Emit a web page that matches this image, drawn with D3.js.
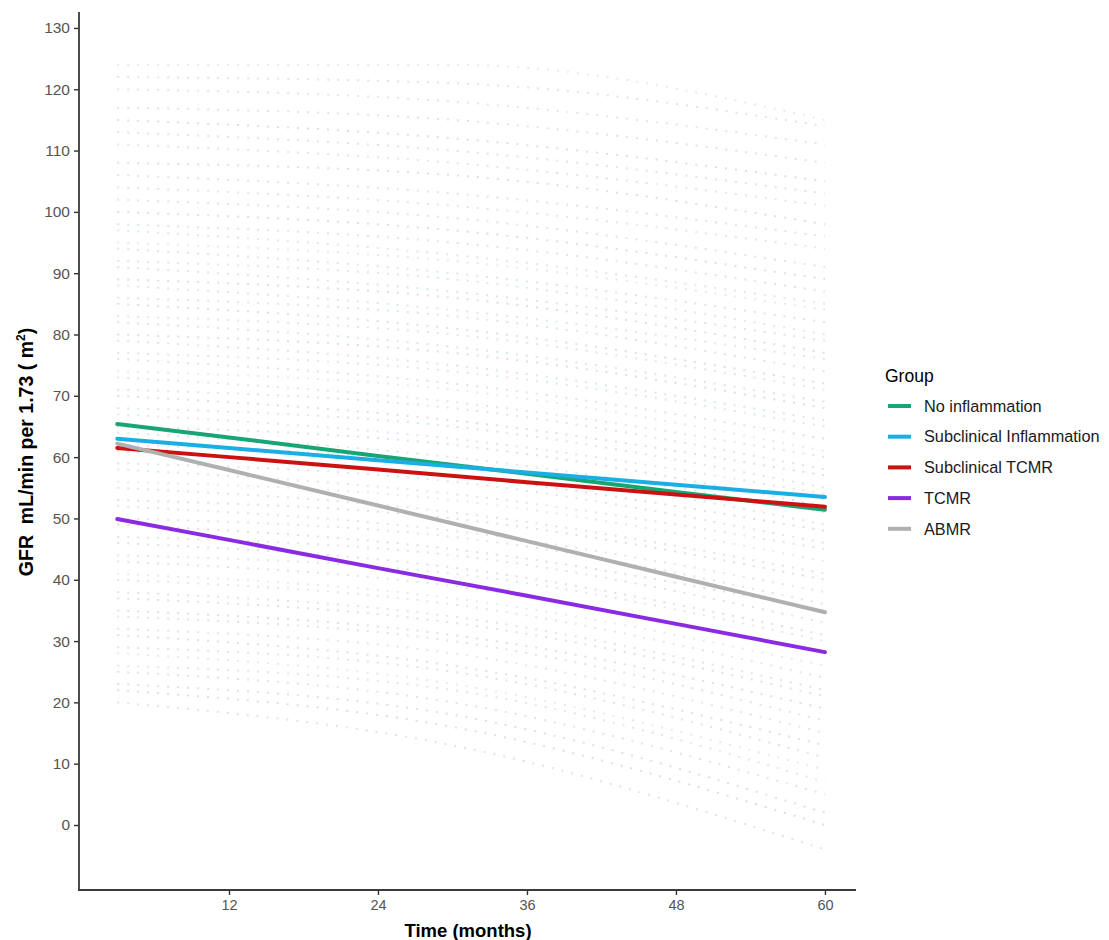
<!DOCTYPE html>
<html>
<head>
<meta charset="utf-8">
<script src="https://cdn.jsdelivr.net/npm/d3@7"></script>
<style>
  body { margin: 0; background: #fff; }
  svg text { font-family: "Liberation Sans", Arial, sans-serif; }
</style>
</head>
<body>
<svg id="chart" width="1109" height="940"></svg>
<script>
"use strict";

// Group names and colours (legend order)
const groups = ["No inflammation", "Subclinical Inflammation", "Subclinical TCMR", "TCMR", "ABMR"];
const groupKeys = ["NI", "SI", "SC", "TCMR", "ABMR"];
const groupColors = ["#17a673", "#1aaee5", "#cc1111", "#8a2be2", "#b0b0b0"];

// Fitted group trajectories
const months = [3, 12, 24, 36, 48, 60];
const noInflammation = [65.4, 63.2, 60.2, 57.3, 54.3, 51.4];
const subclinicalInflammation = [63.0, 61.5, 59.5, 57.5, 55.5, 53.5];
const subclinicalTCMR = [61.5, 60.0, 58.0, 55.9, 53.9, 51.9];
const tcmr = [49.9, 46.5, 41.9, 37.4, 32.8, 28.2];
const abmr = [62.2, 57.9, 52.1, 46.3, 40.5, 34.7];
const seriesValues = [noInflammation, subclinicalInflammation, subclinicalTCMR, tcmr, abmr];

// Faint individual trajectories: [group, value at 3, value at 30, value at 60]
const bgMonths = [3, 30, 60];
const bgLines = [
  ["ABMR", 124, 124, 115], ["NI", 122, 121, 114], ["SI", 120, 118, 111], ["NI", 117, 115, 108],
  ["SC", 115, 112, 105], ["NI", 113, 110, 103], ["SI", 111, 108, 101], ["TCMR", 108, 106, 98],
  ["NI", 106, 103, 96], ["SI", 104, 101, 94], ["NI", 102, 99, 91], ["SC", 100, 97, 89],
  ["NI", 98, 95, 87], ["SI", 97, 93, 85], ["ABMR", 95, 92, 84], ["NI", 94, 90, 82],
  ["SI", 92, 89, 80], ["NI", 91, 87, 79], ["SC", 89, 86, 77], ["SI", 88, 84, 76],
  ["NI", 86, 83, 74], ["TCMR", 85, 81, 72], ["SI", 83, 80, 71], ["NI", 82, 78, 69],
  ["SC", 80, 77, 68], ["NI", 79, 75, 66], ["SI", 77, 74, 65], ["NI", 76, 72, 63],
  ["ABMR", 74, 71, 61], ["SI", 73, 69, 60], ["NI", 71, 68, 58], ["SC", 70, 66, 57],
  ["NI", 68, 65, 55], ["SI", 67, 63, 54], ["TCMR", 65, 62, 52], ["NI", 64, 60, 51],
  ["SI", 62, 59, 49], ["SC", 61, 57, 48], ["NI", 59, 56, 46], ["SI", 58, 54, 45],
  ["ABMR", 56, 53, 43], ["NI", 55, 51, 41], ["TCMR", 53, 50, 40], ["SI", 52, 48, 38],
  ["NI", 50, 47, 36], ["SC", 49, 45, 35], ["NI", 47, 44, 33], ["TCMR", 46, 42, 31],
  ["SI", 44, 41, 30], ["NI", 43, 39, 28], ["ABMR", 41, 37, 26], ["SI", 40, 36, 24],
  ["NI", 38, 34, 22], ["TCMR", 37, 33, 21], ["SC", 35, 31, 19], ["NI", 34, 30, 17],
  ["SI", 32, 28, 15], ["TCMR", 31, 26, 13], ["NI", 29, 25, 11], ["ABMR", 28, 23, 9],
  ["SI", 26, 22, 7], ["NI", 25, 20, 5], ["TCMR", 23, 18, 2], ["SC", 22, 16, 0],
  ["NI", 20, 13, -4]
];

const xTicks = [12, 24, 36, 48, 60];
const yTicks = d3.range(0, 131, 10);

const svg = d3.select("#chart");
const x = d3.scaleLinear().domain([0, 62.5]).range([80, 856]);
const y = d3.scaleLinear().domain([-10.6, 132.6]).range([890, 12]);
const colorOf = d3.scaleOrdinal().domain(groupKeys).range(groupColors);

const line = d3.line()
               .x(d => x(d[0]))
               .y(d => y(d[1]));

// Background dotted trajectories: a grey underlay tinted by group colour
const bg = svg.append("g");
bg.selectAll("path.grey")
  .data(bgLines)
  .enter()
  .append("path")
  .attr("class", "grey")
  .attr("d", d => line.curve(d3.curveMonotoneX)(bgMonths.map((m, i) => [m, d[i + 1]])))
  .attr("fill", "none")
  .attr("stroke", "#8a8aa0")
  .attr("stroke-opacity", 0.13)
  .attr("stroke-width", 2)
  .attr("stroke-dasharray", "2,8");
bg.selectAll("path.tint")
  .data(bgLines)
  .enter()
  .append("path")
  .attr("class", "tint")
  .attr("d", d => line.curve(d3.curveMonotoneX)(bgMonths.map((m, i) => [m, d[i + 1]])))
  .attr("fill", "none")
  .attr("stroke", d => colorOf(d[0]))
  .attr("stroke-opacity", 0.1)
  .attr("stroke-width", 2)
  .attr("stroke-dasharray", "2,8");

// Group trajectories
svg.append("g")
   .selectAll("path")
   .data(seriesValues)
   .enter()
   .append("path")
   .attr("d", vals => line.curve(d3.curveLinear)(months.map((m, i) => [m, vals[i]])))
   .attr("fill", "none")
   .attr("stroke", (d, i) => groupColors[i])
   .attr("stroke-width", 4)
   .attr("stroke-linecap", "round");

// Axes
const yAxis = svg.append("g")
                 .attr("transform", "translate(79,0)")
                 .call(d3.axisLeft(y).tickValues(yTicks).tickSize(5).tickPadding(4));
const xAxis = svg.append("g")
                 .attr("transform", "translate(0,890)")
                 .call(d3.axisBottom(x).tickValues(xTicks).tickSize(5).tickPadding(5));

for (let ax of [yAxis, xAxis]) {
  ax.select(".domain").remove();
  ax.selectAll("line").attr("stroke", "#333").attr("stroke-width", 1.4);
  ax.selectAll("text")
    .attr("fill", "#555")
    .style("font-family", "'Liberation Sans', Arial, sans-serif");
}
yAxis.selectAll("text").style("font-size", "15.5px");
xAxis.selectAll("text").style("font-size", "14.5px");

svg.append("line")
   .attr("x1", 79).attr("x2", 79).attr("y1", 12).attr("y2", 891)
   .attr("stroke", "#3a3a3a").attr("stroke-width", 1.8);
svg.append("line")
   .attr("x1", 78).attr("x2", 856).attr("y1", 890).attr("y2", 890)
   .attr("stroke", "#3a3a3a").attr("stroke-width", 1.8);

// Axis titles
svg.append("text")
   .attr("x", 468).attr("y", 937)
   .attr("text-anchor", "middle")
   .style("font-size", "18.5px").style("font-weight", "bold")
   .attr("fill", "#000")
   .text("Time (months)");

const yTitle = svg.append("text")
   .attr("transform", "translate(33,452) rotate(-90)")
   .attr("text-anchor", "middle")
   .style("font-size", "19.5px").style("font-weight", "bold")
   .style("white-space", "pre")
   .attr("fill", "#000");
yTitle.append("tspan").text("GFR  mL/min per 1.73 ( m");
yTitle.append("tspan").attr("dy", -8).style("font-size", "12px").text("2");
yTitle.append("tspan").attr("dy", 8).text(")");

// Legend
const legend = svg.append("g");
legend.append("text")
      .attr("x", 885).attr("y", 382)
      .style("font-size", "17.5px")
      .attr("fill", "#000")
      .text("Group");

const items = legend.selectAll("g.item")
                    .data(groups)
                    .enter()
                    .append("g")
                    .attr("class", "item")
                    .attr("transform", (d, i) => `translate(0, ${406 + i * 30.7})`);
items.append("line")
     .attr("x1", 888).attr("x2", 911)
     .attr("stroke", (d, i) => groupColors[i])
     .attr("stroke-width", 4);
items.append("text")
     .attr("x", 924).attr("y", 0)
     .attr("dy", "0.35em")
     .style("font-size", "16.3px")
     .attr("fill", "#1a1a1a")
     .text(d => d);
</script>
</body>
</html>
